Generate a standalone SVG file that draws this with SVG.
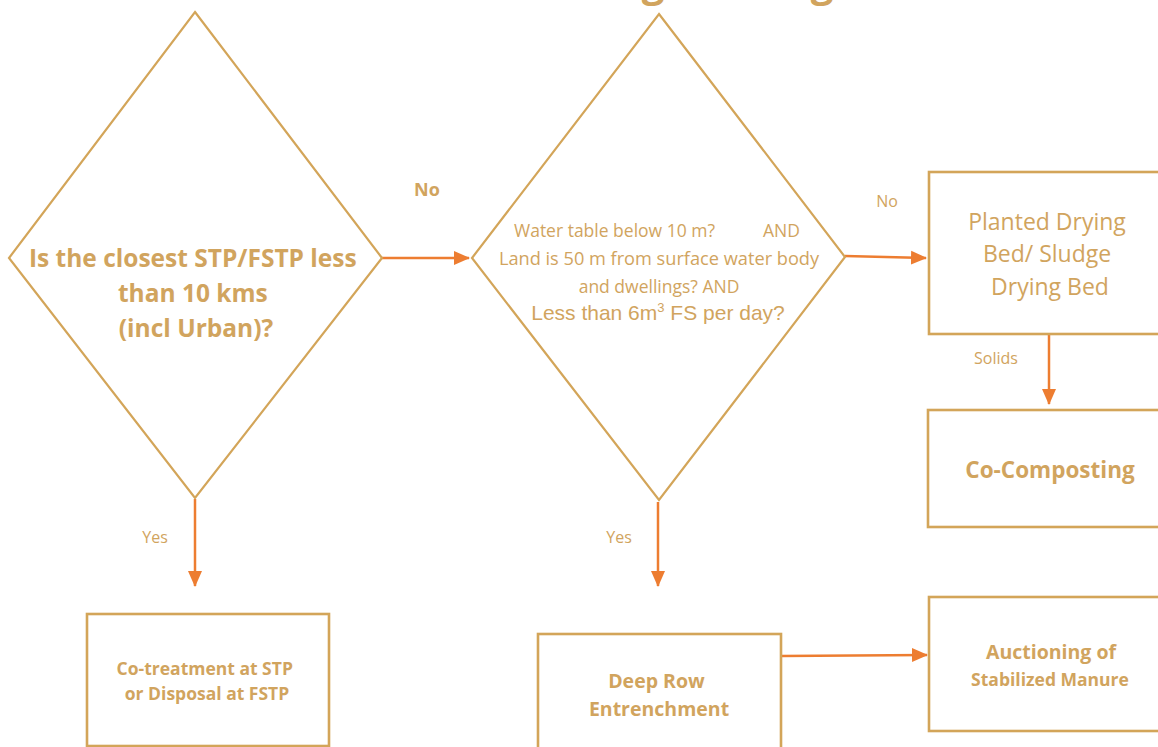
<svg xmlns="http://www.w3.org/2000/svg" width="1158" height="747" viewBox="0 0 1158 747">
<style>
  .shape{fill:none;stroke:#D3A559;stroke-width:2.2}
  .box{fill:none;stroke:#D3A559;stroke-width:2.6}
  .t{font-family:"Open Sans","Noto Sans",sans-serif;fill:#D1A45E}
  .b{font-weight:bold}
  .c{text-anchor:middle}
  .arr{fill:none;stroke:#ED7D31;stroke-width:2.5;marker-end:url(#ah)}
  .lbl{font-family:"Open Sans","Noto Sans",sans-serif;fill:#D1A45E;font-size:16px}
</style>
<defs>
  <marker id="ah" markerUnits="userSpaceOnUse" markerWidth="16" markerHeight="16" viewBox="0 0 16 16" refX="15" refY="8" orient="auto">
    <path d="M0,1 L16,8 L0,15 Z" fill="#ED7D31"/>
  </marker>
</defs>
<rect width="1158" height="747" fill="#ffffff"/>

<text class="t b" x="556" y="-3" font-size="40">Sludge Management</text>

<g id="connectors">
  <line class="arr" x1="382" y1="258" x2="469" y2="258"/>
  <line class="arr" x1="845" y1="256" x2="926" y2="258"/>
  <line class="arr" x1="1049" y1="335" x2="1049" y2="404"/>
  <line class="arr" x1="195" y1="499" x2="195" y2="586"/>
  <line class="arr" x1="658" y1="502" x2="658" y2="586"/>
  <line class="arr" x1="781" y1="656" x2="927" y2="655"/>
  <text class="t b c" x="427" y="196" font-size="18">No</text>
  <text class="lbl c" x="887" y="207">No</text>
  <text class="lbl c" x="996" y="364">Solids</text>
  <text class="lbl c" x="155" y="543">Yes</text>
  <text class="lbl c" x="619" y="543">Yes</text>
</g>

<g id="decision1">
  <polygon class="shape" points="195,12 382,258 195,498 9,258"/>
  <text class="t b c" font-size="24.5">
    <tspan x="196" y="267">Is the closest STP/FSTP less</tspan>
    <tspan x="196" y="302">than 10 kms</tspan>
    <tspan x="196" y="337">(incl Urban)?</tspan>
  </text>
</g>

<g id="decision2">
  <polygon class="shape" points="659,14 845,257 659,500 472,258"/>
  <text class="t" x="514" y="237" font-size="17.5">Water table below 10 m?</text>
  <text class="t" x="763" y="237" font-size="17.5">AND</text>
  <text class="t c" x="659" y="265" font-size="18.2">Land is 50 m from surface water body</text>
  <text class="t c" x="659" y="293" font-size="17.5">and dwellings? AND</text>
  <text class="c" x="658" y="320" font-size="21" font-family="'Liberation Sans',Arial,sans-serif" fill="#D1A45E">Less than 6m<tspan font-size="13" dy="-8">3</tspan><tspan dy="8"> FS per day?</tspan></text>
</g>

<g id="planted">
  <rect class="box" x="929" y="172" width="250" height="162"/>
  <text class="t c" font-size="23">
    <tspan x="1050" y="230">Planted Drying</tspan>
    <tspan x="1050" y="262">Bed/ Sludge</tspan>
    <tspan x="1050" y="295">Drying Bed</tspan>
  </text>
</g>

<g id="cocomposting">
  <rect class="box" x="928" y="410" width="250" height="117"/>
  <text class="t b c" x="1050" y="478" font-size="22.5">Co-Composting</text>
</g>

<g id="cotreatment">
  <rect class="box" x="87" y="614" width="242" height="132"/>
  <text class="t b c" font-size="17.5">
    <tspan x="207" y="675">Co-treatment at STP</tspan>
    <tspan x="207" y="700">or Disposal at FSTP</tspan>
  </text>
</g>

<g id="deeprow">
  <rect class="box" x="538" y="634" width="243" height="130"/>
  <text class="t b c" font-size="19.5">
    <tspan x="659" y="688">Deep Row</tspan>
    <tspan x="659" y="716">Entrenchment</tspan>
  </text>
</g>

<g id="auctioning">
  <rect class="box" x="929" y="597" width="250" height="134"/>
  <text class="t b c" x="1051" y="659" font-size="19.5">Auctioning of</text>
  <text class="t b c" x="1050" y="686" font-size="17.5">Stabilized Manure</text>
</g>
</svg>
